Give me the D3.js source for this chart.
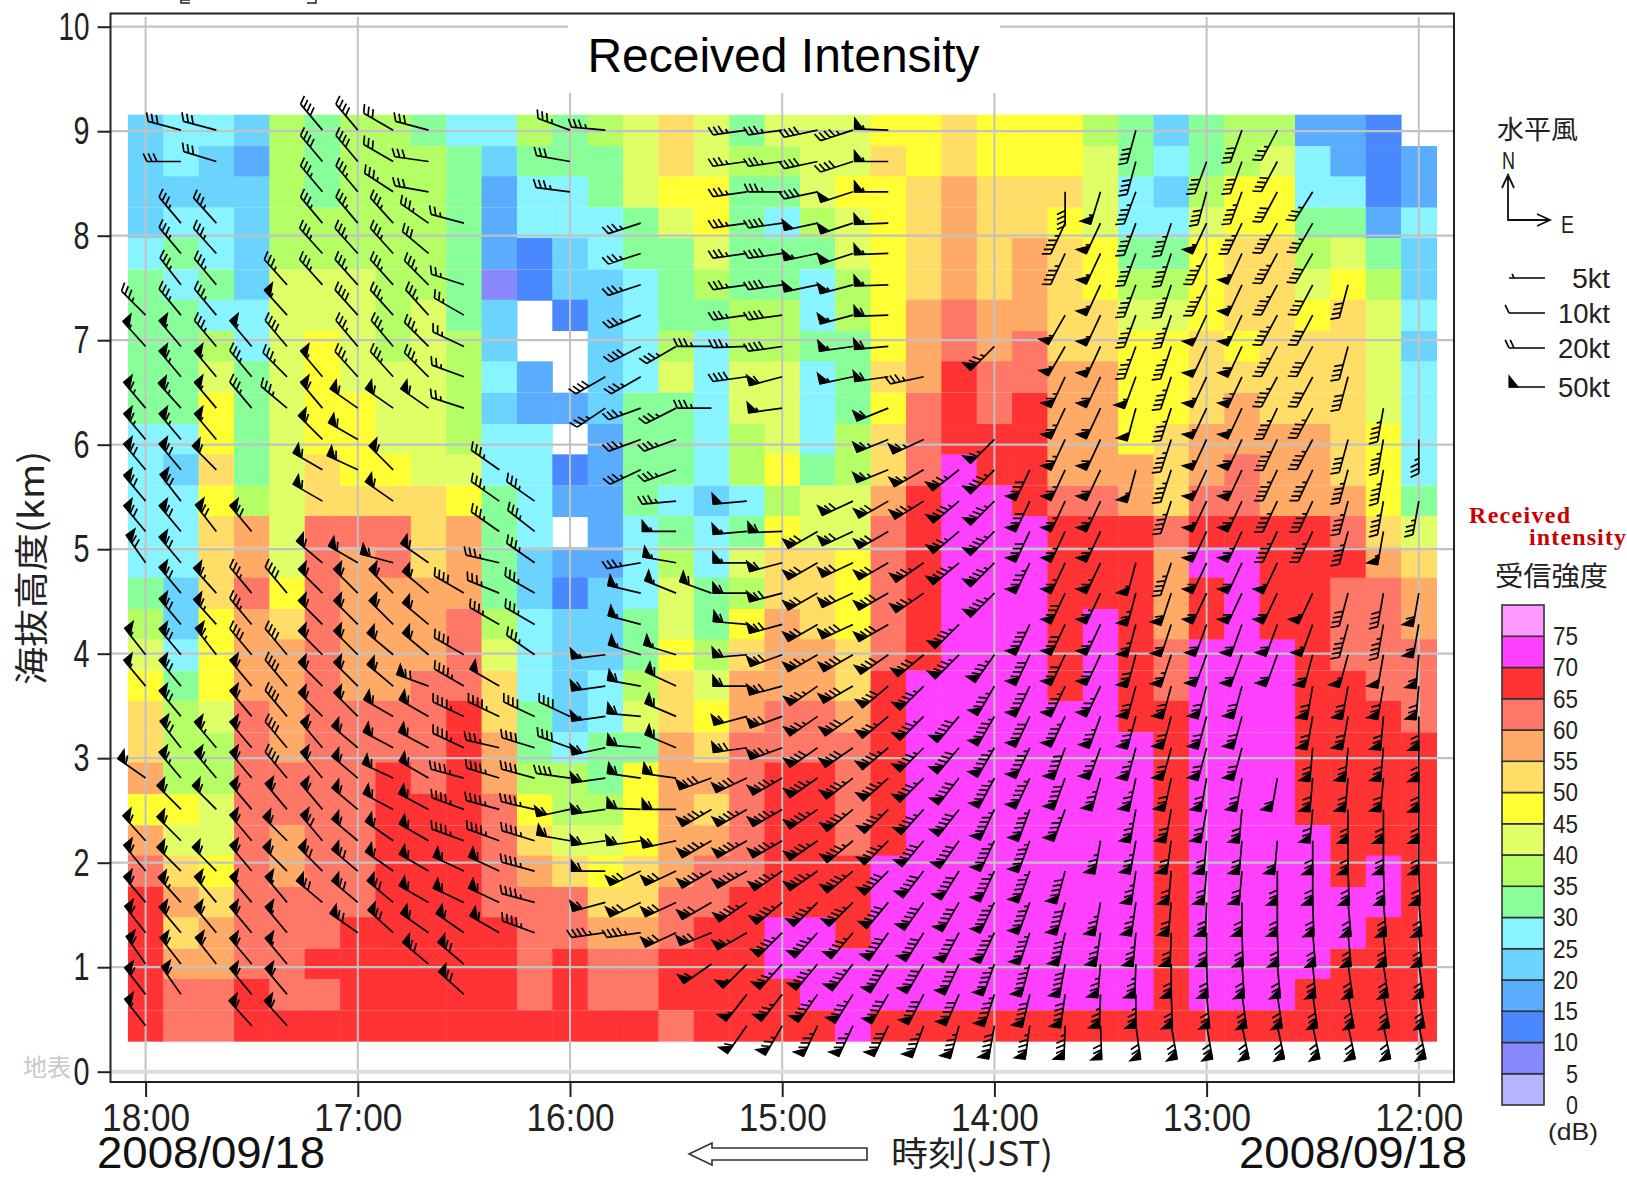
<!DOCTYPE html>
<html>
<head>
<meta charset="utf-8">
<script src="https://cdn.jsdelivr.net/npm/d3@7"></script>
<style>
html,body{margin:0;padding:0;background:#fff;}
svg{display:block;}
text{font-family:"Noto Sans CJK JP","DejaVu Sans",sans-serif;fill:#222;}
</style>
</head>
<body>
<div id="chart"></div>
<script>
var _ = null;

// time of each column, minutes of the day (18:00 on the left)
var columnMinutes = [1080,1070,1060,1050,1040,1030,1020,1010,1000,990,980,970,960,950,940,930,920,910,900,890,880,870,860,850,840,830,820,810,800,790,780,770,760,750,740,730,720];
// height of each row, km (top row first)
var rowHeights = [9.01,8.71,8.42,8.12,7.83,7.53,7.24,6.94,6.65,6.35,6.05,5.76,5.46,5.17,4.87,4.58,4.28,3.99,3.69,3.40,3.10,2.81,2.51,2.21,1.92,1.62,1.33,1.03,0.74,0.44];

var hourTicks = [1080,1020,960,900,840,780,720];
var hourLabels = ["18:00","17:00","16:00","15:00","14:00","13:00","12:00"];
var kmTicks = [0,1,2,3,4,5,6,7,8,9,10];

var dbBreaks = [5,10,15,20,25,30,35,40,45,50,55,60,65,70,75];
var dbColors = ["#B4B4FF","#8888FF","#4A88FF","#5AACFF","#6AD4FF","#88F4FF","#88FF99","#B4FF66","#E0FF66","#FFFF33","#FFDD66","#FFAA66","#FF7766","#FF3333","#FF40FF","#FF99FF"];
var legendDb = [0,5,10,15,20,25,30,35,40,45,50,55,60,65,70,75];
var legendKt = [5,10,20,50];

// received intensity, lower edge of the dB class of each cell
var intensity = [
[20,25,25,20,35,30,35,35,30,25,25,35,30,35,40,50,40,30,40,40,40,45,45,50,45,45,45,35,30,20,30,35,35,15,15,10,_],
[20,25,20,15,35,30,35,35,35,30,20,30,30,30,40,50,40,35,35,40,40,50,45,50,45,45,45,40,30,25,30,35,40,25,15,10,15],
[20,20,20,20,35,30,35,35,35,30,15,25,25,30,40,45,45,30,30,40,45,45,50,55,50,50,50,40,25,20,35,45,45,25,25,10,15],
[20,25,25,20,35,35,35,35,35,30,15,25,25,25,30,40,45,30,25,35,40,45,50,55,50,50,45,40,25,25,40,45,45,30,30,15,25],
[25,30,25,20,35,35,35,35,35,30,15,10,20,25,30,30,40,30,30,30,40,45,50,55,50,55,50,45,30,30,45,50,50,35,40,30,20],
[30,25,30,20,40,40,40,35,35,30,5,10,20,20,25,30,35,30,30,25,35,45,50,55,50,55,50,45,35,35,45,50,50,40,45,35,20],
[30,30,25,25,40,40,40,35,40,30,20,_,10,20,25,30,30,35,35,25,35,45,55,60,55,55,50,50,40,40,45,50,50,45,50,40,25],
[30,30,35,25,40,45,40,35,40,35,20,_,_,20,25,35,25,35,35,30,30,45,55,60,55,60,50,50,45,45,50,45,50,50,50,40,20],
[30,30,40,30,40,45,40,40,40,35,25,15,_,20,25,40,25,40,40,25,30,50,55,65,60,60,55,55,45,45,50,50,50,50,50,40,25],
[30,30,45,30,40,45,45,40,40,35,20,15,15,20,30,30,25,40,40,25,30,45,60,65,60,65,55,55,45,45,50,55,50,50,50,40,25],
[25,25,45,30,40,45,45,40,40,35,25,25,_,15,30,30,25,35,40,25,35,50,60,65,65,65,55,55,45,50,55,55,55,55,50,45,25],
[25,20,50,30,40,50,45,45,40,40,25,25,10,15,30,30,25,35,45,30,35,50,60,70,65,65,55,55,55,50,55,60,55,55,50,45,25],
[25,25,45,35,40,50,50,50,50,45,30,25,15,15,30,25,20,25,35,40,40,55,65,70,70,65,60,60,55,50,60,60,55,55,55,45,30],
[25,25,50,55,40,60,60,60,50,55,30,25,_,15,25,30,25,30,45,40,40,60,65,70,70,70,65,65,65,60,65,65,65,65,60,50,40],
[25,25,50,55,40,60,55,60,50,55,30,20,15,15,25,35,25,40,50,50,45,60,65,70,70,70,65,65,65,55,70,70,65,65,65,55,50],
[30,20,50,60,45,60,55,55,55,55,30,20,10,20,25,40,30,35,50,50,45,60,65,70,70,70,65,65,65,55,65,70,65,65,60,60,55],
[35,20,45,55,50,60,55,55,55,60,35,25,20,20,30,40,30,45,55,50,45,60,65,70,70,70,65,70,65,55,65,70,65,65,60,60,55],
[40,25,45,55,55,60,55,55,55,60,40,25,20,20,30,45,35,50,55,55,50,60,65,70,70,70,65,70,65,60,70,70,70,65,60,60,60],
[45,30,45,55,55,60,55,55,60,60,50,25,20,25,35,50,40,55,55,55,50,65,70,70,70,70,65,70,65,60,70,70,70,65,65,60,60],
[50,35,40,60,55,60,60,60,60,65,50,30,20,25,40,50,45,55,60,60,55,65,70,70,70,70,70,70,65,65,70,70,70,65,65,65,60],
[50,35,35,60,55,60,60,60,60,65,55,30,25,30,30,55,50,60,60,60,60,65,70,70,70,70,70,70,70,65,70,70,70,65,65,65,65],
[55,35,35,60,60,60,60,65,60,65,55,35,35,30,45,55,55,60,65,65,60,65,70,70,70,70,70,70,70,65,70,70,70,65,65,65,65],
[45,45,40,60,60,60,60,65,65,65,60,45,35,35,45,55,50,60,65,65,60,65,70,70,70,70,70,70,70,65,70,70,70,65,65,65,65],
[55,40,40,60,55,60,60,65,65,65,60,50,40,40,45,55,55,60,65,65,60,65,70,70,70,70,70,70,70,65,70,70,70,70,65,65,65],
[60,50,45,60,55,60,60,65,65,65,60,55,50,45,50,55,60,60,65,65,65,70,70,70,70,70,70,70,70,65,70,70,70,70,65,70,65],
[65,55,50,60,60,60,60,65,65,65,60,60,60,50,50,60,60,65,65,65,65,70,70,70,70,70,70,70,70,65,70,70,70,70,70,70,65],
[65,50,55,60,60,60,65,65,65,65,65,60,60,55,55,60,65,65,70,70,65,70,70,70,70,70,70,70,70,65,70,70,70,70,70,65,65],
[65,55,55,60,60,65,65,65,65,65,65,60,65,60,60,65,65,65,70,70,70,70,70,70,70,70,70,70,70,65,70,70,70,70,65,65,65],
[65,60,60,65,60,60,65,65,65,65,65,60,65,60,60,65,65,65,65,70,70,70,70,70,70,70,70,70,70,65,70,70,70,65,65,65,65],
[65,60,60,65,65,65,65,65,65,65,65,65,65,65,65,60,65,65,65,65,70,65,65,65,65,65,65,65,65,65,65,65,65,65,65,65,65]
];

// wind speed in knots, empty where no barb was plotted
var windKt = [
[_,30,30,_,_,40,40,30,30,_, _,_,35,35,_,_,_,35,35,40, 45,55,_,_,_,_,_,_,40,_, _,40,35,_,_,_,_],
[_,30,30,_,_,40,40,30,30,_, _,_,30,_,_,_,_,35,35,40, 40,55,_,_,_,_,_,_,40,_, 40,40,40,_,_,_,_],
[_,_,_,_,_,35,35,35,30,_, _,_,35,_,_,_,_,35,35,40, 50,55,_,_,_,_,40,55,45,_, 40,45,40,35,_,_,_],
[_,35,35,_,_,35,35,35,35,25, _,_,_,_,35,_,_,35,40,50, 50,55,_,_,_,_,45,55,45,45, 55,45,45,35,_,_,_],
[_,35,35,_,_,35,35,35,30,_, _,_,_,_,35,_,_,35,40,55, 50,55,_,_,_,_,45,55,45,45, 45,55,45,40,_,_,_],
[_,35,35,_,35,35,35,35,35,25, _,_,_,_,35,_,_,35,40,50, 55,55,_,_,_,_,_,55,45,45, 45,55,45,40,40,_,_],
[35,35,35,_,55,_,40,35,35,25, _,_,_,_,35,_,_,35,40,_, 55,60,_,_,_,_,55,55,45,45, 50,55,45,40,_,_,_],
[55,55,35,55,40,_,35,35,35,25, _,_,_,_,40,35,35,35,40,_, 55,60,_,_,75,_,55,55,45,45, 50,60,45,40,40,_,_],
[_,65,55,35,35,55,35,35,35,25, _,_,_,40,35,_,_,40,60,_, 55,60,35,_,_,_,65,60,55,45, 55,65,45,40,40,_,_],
[65,65,55,35,35,60,60,60,60,25, _,_,_,35,35,35,35,_,55,_, _,60,_,_,_,_,65,60,50,45, 55,55,45,45,_,45,_],
[65,65,55,_,_,60,60,_,_,_, _,_,_,_,35,35,_,_,_,_, _,65,65,_,65,_,65,60,_,45, 55,60,45,45,40,45,35],
[70,70,60,_,_,60,60,60,_,_, 35,_,_,_,35,35,_,_,_,_, _,65,65,75,85,80,65,60,55,45, 55,60,45,45,45,45,_],
[70,70,_,_,_,60,_,60,_,_, 35,35,_,_,_,35,_,50,_,_, 70,70,75,85,85,80,65,65,_,45, 55,65,45,45,45,45,35],
[70,70,70,70,_,_,_,_,_,_, 35,35,_,_,_,55,_,55,60,70, 70,70,_,75,85,80,65,65,_,_, 60,65,45,45,45,55,_],
[70,70,_,_,_,60,60,60,60,_, 35,35,_,_,35,55,_,55,60,70, 70,70,75,85,85,85,65,65,55,45, 60,60,55,_,_,_,_],
[_,70,65,35,40,60,60,60,60,40, 35,35,_,_,55,55,60,60,70,70, 70,80,75,_,85,_,80,65,65,60, 60,60,60,55,40,40,60],
[_,70,65,35,_,60,60,60,60,_, 35,35,_,_,55,_,_,60,70,70, 80,80,_,85,_,90,80,65,65,60, 60,60,60,55,45,45,60],
[55,70,65,40,40,60,60,60,60,40, _,35,_,55,55,55,_,60,70,75, 80,80,80,85,85,90,80,70,70,65, 60,60,60,60,55,50,60],
[55,70,_,60,40,60,60,60,70,45, 50,_,_,60,60,60,_,60,70,75, 80,80,85,_,85,90,85,75,70,70, 70,70,_,70,70,70,70],
[_,70,_,60,40,60,60,60,60,45, 45,40,40,55,60,60,_,60,70,75, 80,75,85,90,95,90,85,75,75,70, 70,70,_,70,70,70,70],
[_,70,65,60,40,60,60,60,60,45, 35,40,40,60,60,60,_,70,75,80, 80,85,85,90,95,95,90,75,75,70, 70,70,_,70,70,70,70],
[60,65,65,60,40,60,60,60,60,45, 45,40,40,60,60,60,80,80,85,85, 85,85,85,90,95,95,90,75,75,70, 70,70,60,70,70,70,70],
[_,60,60,60,60,60,60,60,60,45, 45,45,60,60,60,60,85,85,85,85, 85,85,85,90,95,95,85,_,75,70, 70,70,_,70,70,70,70],
[60,60,_,60,60,70,60,60,60,45, 45,45,60,60,60,60,85,85,85,85, 85,85,90,90,95,95,_,75,75,70, 70,70,60,70,70,70,70],
[60,60,60,60,60,70,70,60,60,60, 60,45,_,60,70,70,85,85,85,85, 85,90,90,90,95,95,90,_,75,70, 70,70,70,70,70,70,70],
[60,65,60,55,55,70,70,70,60,60, 60,45,_,60,70,70,70,85,85,85, 85,90,90,90,95,95,90,75,75,70, 70,70,70,70,70,70,70],
[60,60,60,60,55,_,70,70,60,60, 60,45,_,45,45,70,70,65,85,85, 85,90,90,90,95,95,90,75,75,70, 70,70,70,70,70,70,70],
[60,60,60,60,55,_,_,_,70,70, _,_,_,_,_,_,60,55,75,85, 85,90,90,90,95,95,90,75,75,70, 70,70,70,70,70,70,70],
[60,60,_,60,60,_,_,_,_,70, _,_,_,_,_,_,_,55,75,85, 85,90,90,90,95,90,90,75,75,70, 70,70,70,70,70,70,70],
[55,_,_,60,60,_,_,_,_,_, _,_,_,_,_,_,_,60,75,85, 85,90,85,85,90,85,85,70,70,70, 70,70,70,70,70,70,70]
];

// direction the wind blows from, degrees (only used where windKt has a value)
var windFrom = [
[320,285,285,320,320,320,320,300,285,285, 280,280,290,275,270,270,270,262,262,258, 252,272,270,270,270,260,200,200,195,195, 200,200,208,210,210,210,210],
[320,270,287,320,320,320,320,300,278,285, 280,280,280,270,270,270,270,262,262,258, 252,270,270,270,270,260,200,200,195,195, 200,200,208,210,210,210,210],
[320,320,320,320,320,320,320,303,280,285, 280,280,277,270,270,270,270,262,270,258, 252,270,270,270,270,260,180,197,200,198, 195,200,208,212,210,210,210],
[320,320,318,320,320,320,320,318,305,285, 280,280,290,260,252,250,262,262,262,258, 252,268,270,270,270,260,205,205,200,198, 205,205,208,210,210,210,210],
[320,320,318,320,320,318,318,318,310,285, 280,280,290,255,252,250,262,262,262,258, 252,268,270,270,270,260,205,205,200,198, 205,205,208,210,210,210,210],
[320,322,320,320,318,318,318,318,315,288, 280,280,285,255,252,250,262,262,262,258, 255,268,270,270,270,260,205,205,200,198, 205,205,208,208,195,190,190],
[315,320,320,320,318,318,318,318,318,300, 280,280,285,255,248,248,262,262,262,258, 255,268,270,270,270,260,210,205,200,198, 205,205,208,208,195,190,185],
[318,320,320,320,320,320,320,320,315,295, 280,280,280,250,243,240,270,268,262,258, 262,265,260,250,225,220,210,205,200,198, 205,205,208,208,195,190,185],
[320,320,320,320,315,320,318,318,315,290, 280,280,280,240,240,240,250,262,255,258, 258,262,258,240,225,220,205,205,200,198, 205,205,208,208,195,190,185],
[320,318,320,320,310,320,305,305,305,288, 280,280,280,236,250,243,270,270,262,255, 255,248,250,240,225,220,205,205,195,198, 205,205,205,208,195,190,185],
[320,320,320,320,315,315,300,305,305,290, 280,280,280,240,250,250,270,270,262,255, 255,248,245,235,225,220,205,205,195,198, 205,205,205,208,195,190,180],
[320,320,315,320,315,300,295,315,300,300, 305,300,280,240,245,250,265,265,258,255, 252,248,240,232,225,205,205,205,195,198, 205,205,205,205,195,190,175],
[320,322,320,320,315,300,295,305,300,300, 305,305,280,240,245,265,262,265,258,252, 245,240,238,230,225,205,205,205,195,198, 205,205,205,205,195,190,190],
[320,320,322,320,315,300,295,300,300,300, 305,308,280,240,245,270,262,265,268,240, 245,240,235,230,225,205,205,205,195,198, 205,205,205,205,195,190,190],
[325,320,318,320,315,310,300,285,305,300, 283,305,280,250,260,280,262,270,255,240, 245,240,235,230,225,205,205,205,195,198, 205,205,205,205,195,190,190],
[320,320,318,320,320,315,315,315,310,300, 292,300,280,250,283,292,290,270,255,240, 245,240,235,230,225,205,205,205,195,198, 205,205,205,205,195,190,190],
[320,320,318,320,320,315,315,315,310,300, 300,300,280,250,285,290,280,275,255,240, 245,240,235,225,225,205,205,205,195,198, 200,200,200,200,195,190,190],
[322,320,322,320,320,315,315,310,310,300, 295,305,280,263,287,287,280,265,250,240, 240,235,230,225,215,205,205,205,195,198, 200,200,200,195,195,190,185],
[320,320,320,320,320,315,315,310,290,300, 300,300,280,262,280,295,280,270,255,235, 240,230,225,225,210,205,205,205,195,195, 195,195,195,190,190,190,185],
[320,320,318,320,320,315,315,300,300,295, 295,295,295,262,275,293,280,255,250,235, 235,230,225,220,210,205,205,200,195,195, 195,195,195,190,190,185,180],
[320,322,320,320,320,320,310,298,298,295, 283,287,290,258,275,293,280,262,250,235, 235,230,225,220,210,205,200,200,195,195, 195,195,190,185,185,185,180],
[305,320,320,320,320,320,310,295,300,285, 287,285,278,262,278,278,250,245,240,235, 232,228,225,218,208,205,200,195,192,192, 190,190,190,185,185,185,180],
[320,315,315,320,320,320,310,298,298,290, 285,283,258,262,272,270,240,240,240,235, 230,225,222,218,205,200,200,195,190,190, 190,185,185,185,180,180,180],
[318,315,320,320,315,320,310,305,300,290, 290,287,280,262,262,258,240,240,240,235, 230,225,220,215,205,200,195,190,190,188, 185,185,185,180,180,180,180],
[320,315,315,320,315,315,310,305,300,295, 295,285,280,270,245,245,240,240,235,235, 230,225,218,212,205,200,195,190,188,185, 185,185,180,180,178,178,178],
[320,318,320,320,320,310,310,310,300,295, 295,285,280,255,245,245,240,235,230,225, 225,220,215,210,205,200,195,190,188,185, 182,180,180,178,175,175,175],
[322,320,320,320,320,310,305,312,305,305, 300,290,280,262,262,245,248,240,225,222, 220,215,212,208,205,198,192,188,185,182, 180,178,178,175,175,175,175],
[325,322,322,320,320,310,305,310,310,310, 300,290,280,270,260,245,235,225,222,220, 218,212,210,205,200,195,190,185,182,180, 178,176,175,175,172,172,172],
[322,325,322,320,320,310,305,310,310,312, 300,290,280,270,260,245,235,218,218,215, 212,210,207,203,198,193,188,182,180,178, 175,172,172,172,170,170,170],
[322,325,322,318,318,310,305,310,310,312, 300,290,280,270,260,245,235,215,210,205, 205,205,200,195,190,188,182,178,172,170, 170,168,168,168,168,168,168]
];

var width = 1627, height = 1178;
var frame = {left:110.5, right:1454, top:13.5, bottom:1082};
var halfColumn = 5, halfRow = 0.1477;
var digitFont = "'Liberation Sans',Arial,sans-serif";

var svg = d3.select("#chart").append("svg").attr("width", width).attr("height", height);

var xScale = d3.scaleLinear().domain([1080,720]).range([145.6,1418.8]);
var yScale = d3.scaleLinear().domain([0,10]).range([1071.7,26.7]);
var colorScale = d3.scaleThreshold().domain(dbBreaks).range(dbColors);
var legendScale = d3.scaleLinear().domain([0,80]).range([1105,605]);

// intensity cells
var cells = [];
intensity.forEach(function(row, r){
    row.forEach(function(db, c){
        if (db != null) cells.push({db:db, t:columnMinutes[c], h:rowHeights[r]});
    });
});
svg.append("g").selectAll("rect").data(cells).enter().append("rect")
    .attr("x", function(d){ return xScale(d.t + halfColumn); })
    .attr("y", function(d){ return yScale(d.h + halfRow); })
    .attr("width", function(d){ return xScale(d.t - halfColumn) - xScale(d.t + halfColumn) + 0.5; })
    .attr("height", function(d){ return yScale(d.h - halfRow) - yScale(d.h + halfRow) + 0.5; })
    .attr("fill", function(d){ return colorScale(d.db); });

// grid
var grid = svg.append("g").attr("stroke", "#C2C2C2");
grid.selectAll(".hline").data(kmTicks.slice(1)).enter().append("line").attr("class","hline")
    .attr("x1", frame.left).attr("x2", frame.right)
    .attr("y1", function(d){ return yScale(d); }).attr("y2", function(d){ return yScale(d); })
    .attr("stroke-width", 2.2);
grid.selectAll(".vline").data(hourTicks).enter().append("line").attr("class","vline")
    .attr("x1", function(d){ return xScale(d); }).attr("x2", function(d){ return xScale(d); })
    .attr("y1", 17).attr("y2", frame.bottom)
    .attr("stroke-width", 2);
svg.append("line").attr("x1", frame.left).attr("x2", frame.right)
    .attr("y1", yScale(0)).attr("y2", yScale(0))
    .attr("stroke", "#DDD").attr("stroke-width", 4);

// draws one barb, anchor at (ax,ay), tail pointing to where the wind comes from
function drawBarb(g, ax, ay, deg, kt, len){
    var rad = deg * Math.PI / 180;
    var ux = Math.sin(rad), uy = -Math.cos(rad);
    var tx = 0.42*ux - 0.91*uy, ty = 0.91*ux + 0.42*uy;
    var px = -uy, py = ux;
    var tailX = ax + ux*len, tailY = ay + uy*len;
    function at(pos){ return [tailX - ux*pos, tailY - uy*pos]; }

    var lines = d3.path(), flags = d3.path();
    lines.moveTo(ax, ay); lines.lineTo(tailX, tailY);
    var pos = 0, left = Math.round(kt/5)*5;
    while (left >= 50){
        var a = at(pos), b = at(pos+9);
        flags.moveTo(a[0], a[1]);
        flags.lineTo(a[0]+px*11, a[1]+py*11);
        flags.lineTo(b[0], b[1]);
        flags.closePath();
        pos += 10; left -= 50;
    }
    while (left >= 10){
        var t = at(pos);
        lines.moveTo(t[0], t[1]);
        lines.lineTo(t[0]+tx*9, t[1]+ty*9);
        pos += 5; left -= 10;
    }
    if (left >= 5){
        if (pos == 0) pos = 5;
        var h = at(pos);
        lines.moveTo(h[0], h[1]);
        lines.lineTo(h[0]+tx*4.5, h[1]+ty*4.5);
    }
    g.append("path").attr("d", lines.toString()).attr("fill","none").attr("stroke","#000").attr("stroke-width",1.7);
    if (kt >= 50) g.append("path").attr("d", flags.toString()).attr("fill","#000").attr("stroke","#000").attr("stroke-width",1.2);
}

var barbs = [];
windKt.forEach(function(row, r){
    row.forEach(function(kt, c){
        if (kt != null) barbs.push({kt:kt, deg:windFrom[r][c], t:columnMinutes[c], h:rowHeights[r]});
    });
});
svg.append("g").selectAll("g").data(barbs).enter().append("g")
    .each(function(d){ drawBarb(d3.select(this), xScale(d.t), yScale(d.h), d.deg, d.kt, 34); });

// title box hides the grid
svg.append("rect").attr("x",568).attr("y",15).attr("width",432).attr("height",78).attr("fill","#fff");
svg.append("text").attr("x",783.5).attr("y",72).attr("text-anchor","middle")
    .style("font-family",digitFont).style("font-size","48px").style("fill","#000")
    .text("Received Intensity");

// frame
svg.append("rect").attr("x",frame.left).attr("y",frame.top)
    .attr("width",frame.right-frame.left).attr("height",frame.bottom-frame.top)
    .attr("fill","none").attr("stroke","#222").attr("stroke-width",2);

// axes
var yAxis = d3.axisLeft(yScale).tickValues(kmTicks).tickSize(13).tickPadding(8).tickFormat(function(d){ return d; });
var yG = svg.append("g").attr("transform","translate("+frame.left+",0)").call(yAxis);
yG.select(".domain").remove();
yG.selectAll("line").attr("stroke","#222").attr("stroke-width",2);
yG.selectAll("text").style("font-family",digitFont).style("font-size","39px").style("fill","#222")
    .attr("textLength",function(d){ return d == 10 ? 31 : 16; }).attr("lengthAdjust","spacingAndGlyphs");

var xAxis = d3.axisBottom(xScale).tickValues(hourTicks).tickSize(15).tickPadding(6)
    .tickFormat(function(d,i){ return hourLabels[i]; });
var xG = svg.append("g").attr("transform","translate(0,"+frame.bottom+")").call(xAxis);
xG.select(".domain").remove();
xG.selectAll("line").attr("stroke","#222").attr("stroke-width",2);
xG.selectAll("text").style("font-family",digitFont).style("font-size","39px").style("fill","#222")
    .attr("textLength",88).attr("lengthAdjust","spacingAndGlyphs");

function label(x, y, str, size, anchor, len){
    var t = svg.append("text").attr("x",x).attr("y",y).attr("text-anchor",anchor||"start")
        .style("font-size",size+"px").text(str);
    if (len) t.attr("textLength",len).attr("lengthAdjust","spacingAndGlyphs");
    return t;
}

// axis captions
svg.append("text").attr("transform","translate(44,568) rotate(-90)").attr("text-anchor","middle")
    .style("font-size","34px").attr("textLength",234).attr("lengthAdjust","spacingAndGlyphs").text("海抜高度(km)");
label(23,1076,"地表",24,"start",48).style("fill","#C8C8C8");
label(97,1168,"2008/09/18",44,"start",228).style("fill","#111").style("font-family",digitFont);
label(1239,1168,"2008/09/18",44,"start",228).style("fill","#111").style("font-family",digitFont);
label(891,1166,"時刻(JST)",34,"start",162);

svg.append("path").attr("d","M689,1154 L712,1143 L712,1148 L867,1148 L867,1160 L712,1160 L712,1165 Z")
    .attr("fill","#fff").attr("stroke","#333").attr("stroke-width",1.6);

// clipped caption above the frame
svg.append("path").attr("d","M190,0 L181,0 L181,3 L190,3 M307,3 L316,3 L316,0").attr("fill","none").attr("stroke","#222").attr("stroke-width",1.5);

// wind legend
label(1497,139,"水平風",26,"start",81);
label(1502,169,"N",24,"start",13).style("font-family",digitFont);
label(1561,233,"E",24,"start",13).style("font-family",digitFont);
svg.append("path").attr("d","M1508,175 L1508,220 L1550,220 M1502,188 L1508,175 L1514,188 M1537,214 L1550,220 L1537,226")
    .attr("fill","none").attr("stroke","#111").attr("stroke-width",1.8);
var legendKtY = d3.scaleOrdinal().domain(legendKt).range([278,313,348,387]);
svg.append("g").selectAll("g").data(legendKt).enter().append("g")
    .each(function(d){ drawBarb(d3.select(this), 1545, legendKtY(d), 270, d, 36); });
legendKt.forEach(function(d){
    label(1610, legendKtY(d)+10, d+"kt", 27, "end", d == 5 ? 38 : 52).style("font-family",digitFont);
});

// intensity legend
svg.append("text").attr("x",1469).attr("y",523)
    .style("font-family","'Liberation Serif',serif").style("font-weight","bold").style("font-size","24px").style("fill","#CC0000")
    .attr("textLength",101).text("Received");
svg.append("text").attr("x",1529).attr("y",545)
    .style("font-family","'Liberation Serif',serif").style("font-weight","bold").style("font-size","24px").style("fill","#CC0000")
    .attr("textLength",97).text("intensity");
label(1495,586,"受信強度",27,"start",113);

svg.append("g").selectAll("rect").data(legendDb).enter().append("rect")
    .attr("x",1502).attr("width",42)
    .attr("y",function(d){ return legendScale(d+5); })
    .attr("height",function(d){ return legendScale(d) - legendScale(d+5); })
    .attr("fill",function(d){ return colorScale(d); })
    .attr("stroke","#333").attr("stroke-width",1.6);

var legendAxis = d3.axisRight(legendScale).tickValues(legendDb).tickSize(0).tickPadding(0).tickFormat(function(d){ return d; });
var legendG = svg.append("g").attr("transform","translate(1578,0)").call(legendAxis);
legendG.select(".domain").remove();
legendG.selectAll("text").attr("x",0).attr("text-anchor","end")
    .style("font-family",digitFont).style("font-size","26px").style("fill","#222")
    .attr("textLength",function(d){ return d >= 10 ? 25 : 12; }).attr("lengthAdjust","spacingAndGlyphs");
label(1573,1140,"(dB)",24,"middle",50).style("font-family",digitFont);
</script>
</body>
</html>
